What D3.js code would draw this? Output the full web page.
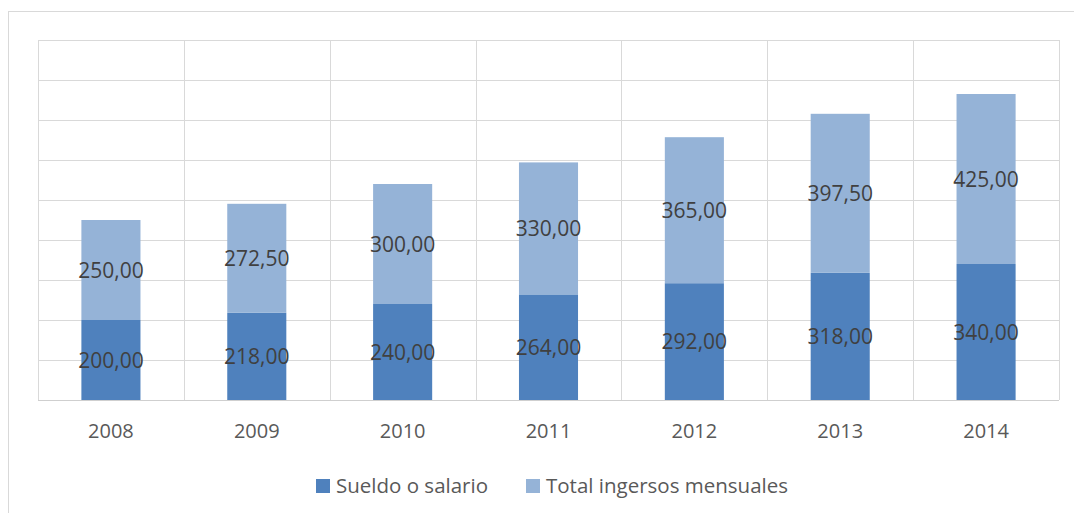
<!DOCTYPE html>
<html>
<head>
<meta charset="utf-8">
<script src="https://cdn.jsdelivr.net/npm/d3@7"></script>
<style>
  body { margin: 0; background: #fff; }
  svg { display: block; font-family: "Open Sans", sans-serif; }
</style>
</head>
<body>
<div id="chart"></div>
<script>
const years = ["2008", "2009", "2010", "2011", "2012", "2013", "2014"];
const sueldo = [200, 218, 240, 264, 292, 318, 340];
const totalIngresos = [250, 272.5, 300, 330, 365, 397.5, 425];
const seriesNames = ["Sueldo o salario", "Total ingersos mensuales"];
const yTicks = [0, 100, 200, 300, 400, 500, 600, 700, 800, 900];

const width = 1074, height = 513;
const colors = ["#4f81bd", "#95b3d7"];
const plotLeft = 38, plotRight = 1059, plotTop = 40, plotBottom = 400;

const svg = d3.select("#chart").append("svg")
    .attr("width", width)
    .attr("height", height);

// outer chart border
svg.append("rect")
    .attr("x", 8.5).attr("y", 11.5)
    .attr("width", 1090).attr("height", 520)
    .attr("fill", "none")
    .attr("stroke", "#d9d9d9");

const x = d3.scaleBand()
    .domain(years)
    .range([plotLeft, plotRight])
    .paddingInner(0)
    .paddingOuter(0);

const y = d3.scaleLinear()
    .domain([0, 900])
    .range([plotBottom, plotTop]);

const barW = x.bandwidth() * 0.405;

// gridlines
const grid = svg.append("g").attr("stroke", "#d9d9d9").attr("stroke-width", 1);
grid.selectAll(".h")
  .data(yTicks)
  .join("line")
    .attr("x1", plotLeft).attr("x2", plotRight)
    .attr("y1", d => Math.round(y(d)) + 0.5)
    .attr("y2", d => Math.round(y(d)) + 0.5);
grid.selectAll(".v")
  .data(years.map(d => x(d)).concat([plotRight]))
  .join("line")
    .attr("x1", d => Math.round(d) + 0.5)
    .attr("x2", d => Math.round(d) + 0.5)
    .attr("y1", plotTop).attr("y2", plotBottom);

// stacked data
const rows = years.map((yr, i) => ({year: yr, s: sueldo[i], t: totalIngresos[i]}));
const stack = d3.stack().keys(["s", "t"])(rows);

const layers = svg.append("g").selectAll("g")
  .data(stack)
  .join("g")
    .attr("fill", (d, i) => colors[i]);

layers.selectAll("rect")
  .data(d => d)
  .join("rect")
    .attr("x", d => x(d.data.year) + (x.bandwidth() - barW) / 2)
    .attr("width", barW)
    .attr("y", d => y(d[1]))
    .attr("height", d => y(d[0]) - y(d[1]));

// baseline
svg.append("line")
    .attr("x1", plotLeft).attr("x2", plotRight)
    .attr("y1", plotBottom + 0.5).attr("y2", plotBottom + 0.5)
    .attr("stroke", "#cfcfcf");

// value labels
const fmt = v => v.toFixed(2).replace(".", ",");
stack.forEach(layer => {
  svg.append("g").selectAll("text")
    .data(layer)
    .join("text")
      .attr("x", d => x(d.data.year) + x.bandwidth() / 2)
      .attr("y", d => (y(d[0]) + y(d[1])) / 2)
      .attr("dy", "0.36em")
      .attr("text-anchor", "middle")
      .attr("font-size", 21)
      .attr("fill", "#404040")
      .text(d => fmt(d[1] - d[0]));
});

// x axis labels
const xAxis = svg.append("g")
    .attr("transform", `translate(0,${plotBottom})`)
    .call(d3.axisBottom(x).tickSize(0).tickPadding(24));
xAxis.select(".domain").remove();
xAxis.selectAll("text")
    .attr("font-size", 20)
    .attr("font-family", "Open Sans, sans-serif")
    .attr("fill", "#595959");

// legend
const legendX = [316, 526];
const legend = svg.append("g").selectAll("g")
  .data(seriesNames)
  .join("g")
    .attr("transform", (d, i) => `translate(${legendX[i]},479)`);
legend.append("rect")
    .attr("width", 14).attr("height", 14)
    .attr("fill", (d, i) => colors[i]);
legend.append("text")
    .attr("x", 20).attr("y", 7)
    .attr("dy", "0.36em")
    .attr("font-size", 20.5)
    .attr("fill", "#595959")
    .text(d => d);
</script>
</body>
</html>
